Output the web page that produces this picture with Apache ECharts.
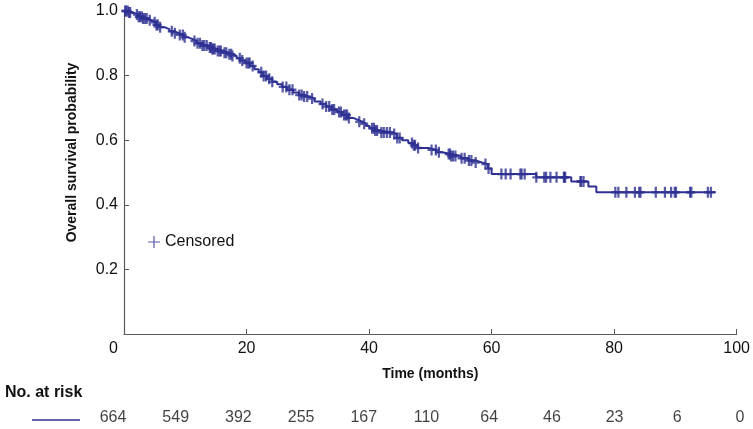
<!DOCTYPE html>
<html>
<head>
<meta charset="utf-8">
<script src="https://cdn.jsdelivr.net/npm/echarts@6/dist/echarts.min.js"></script>
<style>html,body{margin:0;padding:0;background:#fff}#c{width:753px;height:429px}</style>
</head>
<body>
<div id="c"></div>
<script>
// Kaplan-Meier step data (time in months, survival after event)
const eventTimes = [0, 0.8, 1.5, 2.3, 3.0, 3.8, 4.5, 5.2, 5.8, 6.6, 7.4, 8.3, 9.0, 9.8, 10.4, 11.2, 11.9, 12.8, 13.6, 14.4, 15.3, 16.2, 17.0, 17.7, 18.4, 19.0, 19.8, 20.6, 21.3, 22.0, 22.6, 23.4, 24.2, 25.0, 25.8, 26.6, 27.6, 28.6, 29.4, 30.2, 31.1, 32.1, 33.0, 33.9, 34.8, 35.6, 36.5, 37.4, 38.2, 38.9, 39.5, 40.1, 40.9, 41.6, 43.9, 44.5, 45.4, 46.4, 47.2, 47.9, 49.7, 51.0, 51.9, 53.4, 55.0, 56.3, 57.4, 58.4, 59.4, 60.0, 67.3, 73.0, 75.8, 77.1];
const survival = [1.0, 0.995, 0.989, 0.982, 0.977, 0.971, 0.965, 0.957, 0.950, 0.944, 0.937, 0.931, 0.926, 0.919, 0.913, 0.907, 0.900, 0.893, 0.887, 0.882, 0.876, 0.871, 0.866, 0.861, 0.854, 0.847, 0.839, 0.830, 0.820, 0.810, 0.799, 0.790, 0.781, 0.773, 0.765, 0.756, 0.748, 0.740, 0.735, 0.729, 0.720, 0.712, 0.704, 0.695, 0.687, 0.678, 0.669, 0.663, 0.657, 0.651, 0.644, 0.637, 0.630, 0.624, 0.619, 0.607, 0.600, 0.591, 0.584, 0.576, 0.570, 0.563, 0.557, 0.551, 0.544, 0.537, 0.531, 0.526, 0.512, 0.495, 0.485, 0.472, 0.457, 0.439];
const lastFollowUp = 96.6;
const censorTimes = [0.2, 0.3, 0.6, 0.8, 1.0, 2.1, 2.4, 2.6, 2.9, 3.1, 3.4, 3.7, 4.2, 5.0, 5.3, 5.5, 5.9, 7.8, 8.3, 9.1, 9.6, 9.9, 11.5, 12.0, 12.4, 12.8, 13.1, 13.5, 14.0, 14.2, 14.4, 14.6, 14.8, 15.3, 15.6, 15.8, 16.4, 16.7, 17.2, 17.5, 17.7, 18.9, 19.3, 20.0, 20.3, 20.5, 21.0, 22.4, 22.8, 23.2, 23.7, 24.2, 25.9, 26.5, 27.0, 27.5, 28.6, 29.0, 29.4, 29.9, 30.7, 32.4, 33.0, 33.5, 34.0, 34.3, 35.1, 35.4, 35.9, 36.2, 36.4, 36.7, 38.4, 39.2, 40.5, 40.8, 41.0, 41.3, 42.0, 42.4, 42.9, 43.4, 44.1, 44.6, 45.0, 47.0, 47.3, 47.5, 48.0, 50.2, 50.9, 51.4, 53.0, 53.2, 53.4, 53.7, 54.1, 55.1, 55.6, 56.3, 56.7, 57.4, 59.0, 59.5, 61.6, 62.3, 63.1, 64.7, 64.9, 65.4, 67.3, 68.6, 68.9, 69.6, 70.6, 71.8, 71.9, 72.0, 74.5, 74.6, 75.0, 80.2, 80.7, 82.0, 83.4, 84.1, 84.3, 86.8, 88.3, 89.3, 89.9, 90.1, 92.4, 92.6, 95.3, 95.8];
const xTicks = [0, 20, 40, 60, 80, 100];
const riskTimes = [0, 10, 20, 30, 40, 50, 60, 70, 80, 90, 100];
const atRisk = [664, 549, 392, 255, 167, 110, 64, 46, 23, 6, 0];

const NAVY = '#2e3192';
const FONT = '"Liberation Sans", Arial, Helvetica, sans-serif';
const PLUS = 'path://M4.5,0h1v4.5h4.5v1h-4.5v4.5h-1v-4.5h-4.5v-1h4.5z';
const PLUS_BOLD = 'path://M3.6,0h2.8v3.9h3.6v2.2h-3.6v3.9h-2.8v-3.9h-3.6v-2.2h3.6z';

function survAt(t) {
  let s = survival[0];
  for (let i = 0; i < eventTimes.length; i++) {
    if (eventTimes[i] <= t) s = survival[i]; else break;
  }
  return s;
}
const curve = eventTimes.map((t, i) => [t, survival[i]]);
curve.push([lastFollowUp, survival[survival.length - 1]]);
const censored = censorTimes.map(t => [t, survAt(t)]);
const riskData = riskTimes.map((t, i) => [t, 0, atRisk[i]]);

const chart = echarts.init(document.getElementById('c'), null, {renderer: 'canvas'});
chart.setOption({
  animation: false,
  textStyle: {fontFamily: FONT},
  title: {
    text: 'No. at risk', left: 0, top: 380,
    textStyle: {fontFamily: FONT, fontSize: 16, fontWeight: 'bold', color: '#111'}
  },
  legend: {
    data: [{name: 'Censored', icon: PLUS}],
    left: 143, top: 229, itemWidth: 12, itemHeight: 12, itemGap: 6,
    textStyle: {fontFamily: FONT, fontSize: 16, color: '#111'}
  },
  graphic: [{
    type: 'line', shape: {x1: 32, y1: 420, x2: 80, y2: 420},
    style: {stroke: NAVY, lineWidth: 1.4}
  }],
  grid: [
    {left: 124, right: 14, top: 11, bottom: 95},
    {left: 113, right: 13, top: 408, height: 20}
  ],
  xAxis: [{
    type: 'value', gridIndex: 0, min: 0, max: 100, interval: 20,
    name: 'Time (months)', nameLocation: 'middle', nameGap: 33,
    nameTextStyle: {fontFamily: FONT, fontSize: 14, fontWeight: 'bold', color: '#111'},
    axisLine: {lineStyle: {color: '#5a5a5a', width: 1.2}},
    axisTick: {inside: true, length: 5, lineStyle: {color: '#5a5a5a'}},
    axisLabel: {
      margin: 7, fontSize: 16, color: '#111', fontFamily: FONT,
      formatter: v => v === 0 ? '{z|0}' : String(v),
      rich: {z: {fontSize: 16, color: '#111', fontFamily: FONT, padding: [0, 21, 0, 0]}}
    },
    splitLine: {show: false}
  }, {
    type: 'value', gridIndex: 1, min: 0, max: 100, show: false
  }],
  yAxis: [{
    type: 'value', gridIndex: 0, min: 0, max: 1, interval: 0.2,
    name: 'Overall survival probability', nameLocation: 'middle', nameGap: 45,
    nameTextStyle: {fontFamily: FONT, fontSize: 14, fontWeight: 'bold', color: '#111', padding: [0, 0, 0, 40]},
    axisLine: {show: true, lineStyle: {color: '#5a5a5a', width: 1.2}},
    axisTick: {show: true, inside: true, length: 5, lineStyle: {color: '#5a5a5a'}},
    axisLabel: {
      margin: 6, fontSize: 16, color: '#111', fontFamily: FONT,
      formatter: v => v === 0 ? '' : v.toFixed(1)
    },
    splitLine: {show: false}
  }, {
    type: 'value', gridIndex: 1, min: -1, max: 1, show: false
  }],
  series: [{
    name: 'Survival', type: 'line', xAxisIndex: 0, yAxisIndex: 0,
    step: 'end', showSymbol: false, symbol: 'none',
    lineStyle: {color: NAVY, width: 2}, data: curve, z: 2
  }, {
    name: 'Censored', type: 'scatter', xAxisIndex: 0, yAxisIndex: 0,
    symbol: PLUS_BOLD, symbolSize: [8, 11],
    itemStyle: {color: NAVY}, data: censored, z: 3
  }, {
    name: 'At risk', type: 'scatter', xAxisIndex: 1, yAxisIndex: 1,
    symbolSize: 0, data: riskData,
    label: {
      show: true, position: 'inside', fontFamily: FONT, fontSize: 16, color: '#111',
      formatter: p => String(p.value[2])
    }
  }]
});
</script>
</body>
</html>
